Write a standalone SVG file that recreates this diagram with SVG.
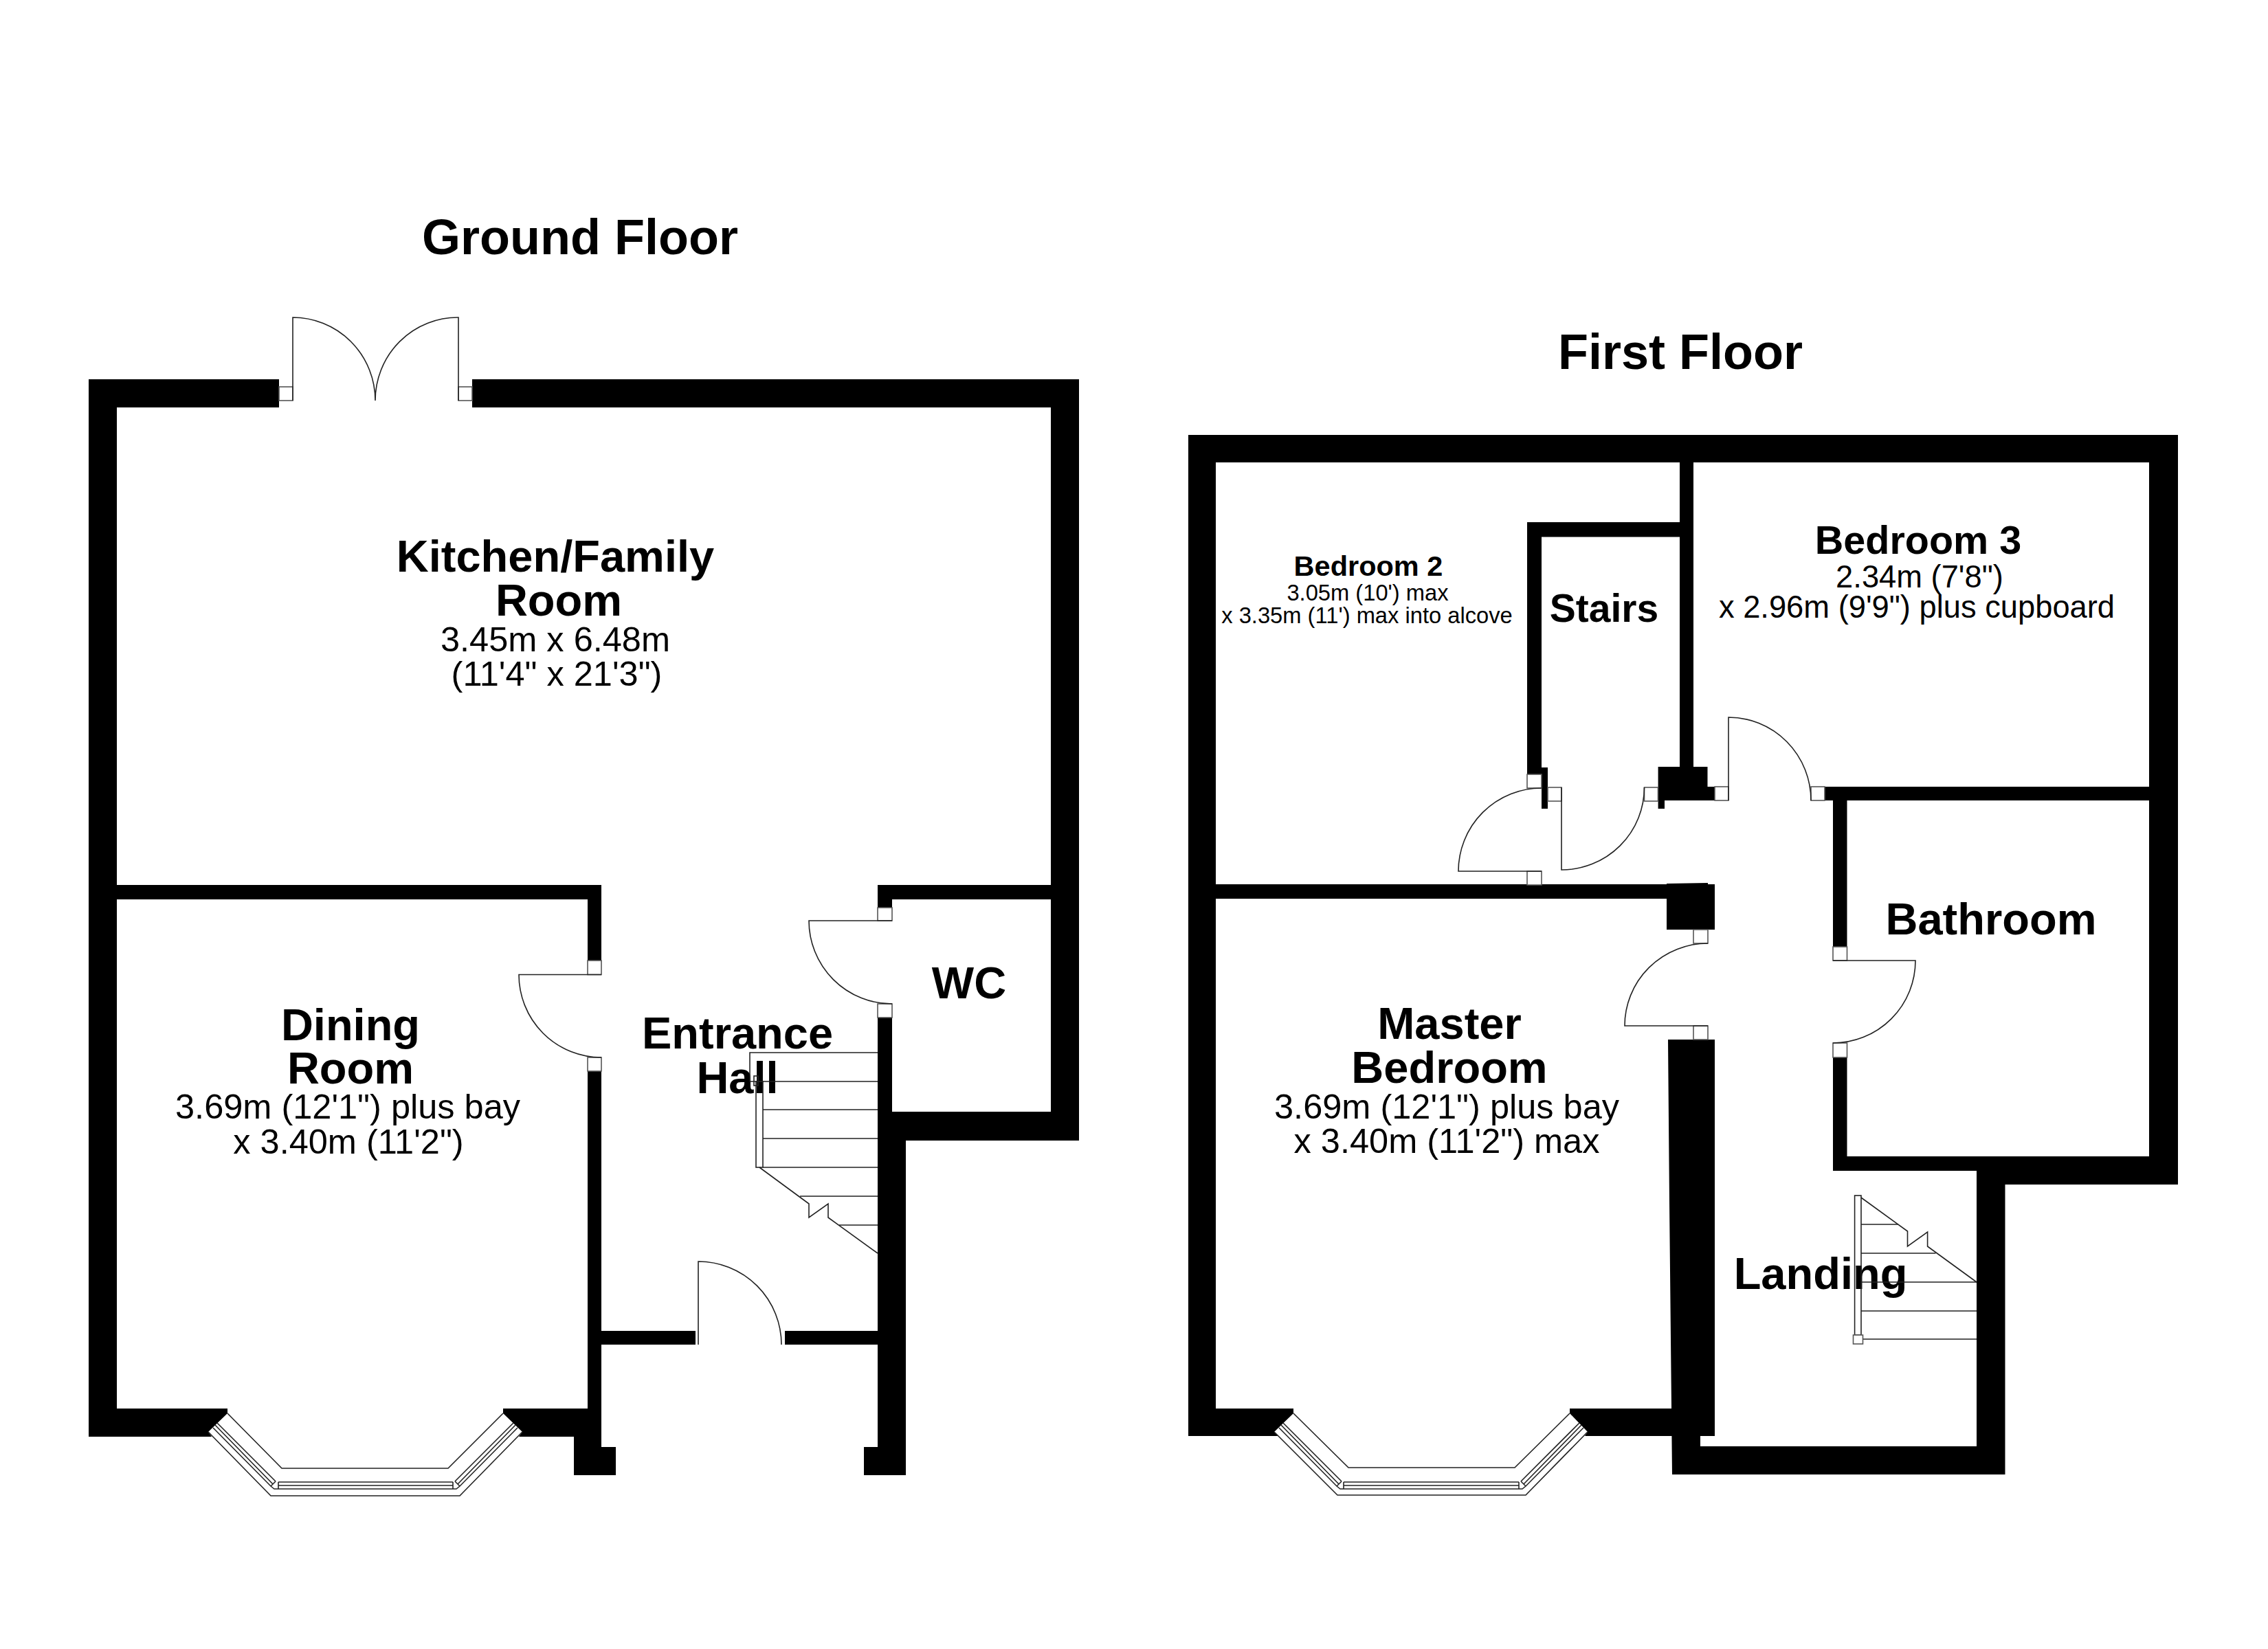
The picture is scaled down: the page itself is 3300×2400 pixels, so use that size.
<svg xmlns="http://www.w3.org/2000/svg" width="3300" height="2400" viewBox="0 0 3300 2400">
<style>
text{font-family:"Liberation Sans",Arial,sans-serif;fill:#000;text-anchor:middle}
.b{font-weight:700;font-size:65px}
.t{font-weight:700;font-size:72px}
.d{font-size:50.5px}
.s{font-size:32.7px}
.w{fill:#000;stroke:none}
.l{fill:none;stroke:#222;stroke-width:1.6}
.f{fill:#fff;stroke:#555;stroke-width:1.6}
</style>
<rect width="3300" height="2400" fill="#fff"/>
<g id="labels">
<text class="t" x="844" y="370">Ground Floor</text>
<text class="t" x="2445" y="537">First Floor</text>
<text class="b" x="808" y="832">Kitchen/Family</text>
<text class="b" x="813" y="896">Room</text>
<text class="d" x="808" y="948">3.45m x 6.48m</text>
<text class="d" x="810" y="998">(11'4" x 21'3")</text>
<text class="b" x="510" y="1514">Dining</text>
<text class="b" x="510" y="1577">Room</text>
<text class="d" x="506" y="1628">3.69m (12'1") plus bay</text>
<text class="d" x="507" y="1679">x 3.40m (11'2")</text>
<text class="b" x="1073" y="1526">Entrance</text>
<text class="b" x="1073" y="1591">Hall</text>
<text class="b" x="1410" y="1453">WC</text>
<text class="b" style="font-size:41.5px" x="1991" y="838">Bedroom 2</text>
<text class="s" x="1990" y="874">3.05m (10') max</text>
<text class="s" x="1989" y="907">x 3.35m (11') max into alcove</text>
<text class="b" style="font-size:57px" x="2334" y="905">Stairs</text>
<text class="b" style="font-size:57.500px" x="2791" y="806">Bedroom 3</text>
<text class="d" style="font-size:45.300px" x="2793" y="855">2.34m (7'8")</text>
<text class="d" style="font-size:45.300px" x="2789" y="899">x 2.96m (9'9") plus cupboard</text>
<text class="b" x="2897" y="1360">Bathroom</text>
<text class="b" x="2109" y="1512">Master</text>
<text class="b" x="2109" y="1576">Bedroom</text>
<text class="d" x="2105" y="1628">3.69m (12'1") plus bay</text>
<text class="d" x="2105" y="1678">x 3.40m (11'2") max</text>
<text class="b" x="2649" y="1876">Landing</text>
</g>
<g id="ground-floor-walls">
<path class="w" d="M129 552H406V593H170V2050H331V2057L303 2084L308 2091H129Z"/>
<path class="w" d="M687 552H1570V1660H1318V2147H1257V2106H1277V1481H1298V1618H1529V593H687Z"/>
<path class="w" d="M170 1288H875V1398H855V1309H170Z"/>
<path class="w" d="M855 1559H875V2106H896V2147H835V2091H755L760 2084L732 2057V2050H855Z"/>
<rect class="w" x="875" y="1937" width="137" height="20"/>
<rect class="w" x="1142" y="1937" width="135" height="20"/>
<rect class="w" x="1277" y="1288" width="21" height="33"/>
<rect class="w" x="1277" y="1288" width="252" height="21"/>
</g>
<g id="ground-floor-doors">
<rect class="f" x="406" y="563" width="20" height="20"/>
<rect class="f" x="667" y="563" width="20" height="20"/>
<path class="l" d="M426 583V462A120 121 0 0 1 546 583A120 121 0 0 1 667 462V583"/>
<rect class="f" x="855" y="1398" width="20" height="20.500"/>
<rect class="f" x="855" y="1539" width="20" height="20"/>
<path class="l" d="M875 1418.500H755A120 120.500 0 0 0 875 1539"/>
<rect class="f" x="1277" y="1321" width="21" height="19"/>
<rect class="f" x="1277" y="1461" width="21" height="20"/>
<path class="l" d="M1298 1340H1177A121 121 0 0 0 1298 1461"/>
<path class="l" d="M1016 1957V1836A121 121 0 0 1 1137 1957"/>
</g>
<g id="ground-floor-stairs">
<path class="l" d="M1091 1574V1532H1277M1091 1574H1277M1110 1615H1277M1110 1657H1277M1110 1699H1277M1164 1741H1277M1221 1783H1277"/>
<rect class="l" x="1100" y="1574" width="10" height="125"/>
<rect class="l" x="1097" y="1566" width="6" height="14"/>
<path class="l" d="M1105 1699L1177 1752V1772L1205 1752V1772L1277 1824"/>
</g>
<g id="ground-floor-bay">
<path class="l" d="M331 2057L410 2137H652L732 2057"/>
<path class="l" d="M303 2084L394 2177H669L760 2084"/>
<path class="l" d="M405 2157H659M405 2162H659M405 2167H659M405 2157V2167M659 2157V2167"/>
<path class="l" d="M316 2071L401 2156M313 2074L397 2160M310 2078L394 2163L399 2167H405M401 2156L394 2163"/>
<path class="l" d="M747 2071L662 2156M750 2074L666 2160M753 2078L669 2163L664 2167H659M662 2156L669 2163"/>
</g>
<g id="first-floor-walls">
<path class="w" d="M1729 633H3169V1724H2917.500V2146H2433L2429 1750L2427 1513H2495V2090H2474V2105H2876V1704H2667V1539H2687.500V1683H3127V1165H2687.500V1378H2667V1165H2655V1145H3127V673H2464V1116H2484.500V1145H2495V1165H2422V1177H2412.600V1116H2444V781.500H2243V1127H2222V760H2444V673H1769V2050H1882V2057L1854 2084L1860 2090H1729Z"/>
<path class="w" d="M2284 2050V2057L2310 2084L2306 2090H2433V2050Z"/>
<rect class="w" x="1769" y="1287" width="656" height="21"/>
<path class="w" d="M2425 1286L2485 1285V1287H2495V1353H2425Z"/>
<path class="w" d="M2243 1117H2252V1177H2243Z"/>
</g>
<g id="first-floor-doors">
<rect class="f" x="2222" y="1127" width="21" height="20"/>
<rect class="f" x="2252" y="1146" width="20" height="20"/>
<rect class="f" x="2392.500" y="1146" width="20" height="20"/>
<path class="l" d="M2272 1146V1266A120.500 120 0 0 0 2392.500 1146"/>
<rect class="f" x="2222" y="1268" width="21" height="20"/>
<path class="l" d="M2243 1147A121 121 0 0 0 2122 1268H2243"/>
<rect class="f" x="2495" y="1145" width="20" height="20"/>
<rect class="f" x="2635" y="1145" width="20" height="20"/>
<path class="l" d="M2515 1165V1044A120 121 0 0 1 2635 1165"/>
<rect class="f" x="2464" y="1353" width="21" height="20"/>
<rect class="f" x="2464" y="1493" width="21" height="20"/>
<path class="l" d="M2485 1373A121 120 0 0 0 2364 1493H2485"/>
<rect class="f" x="2667" y="1378" width="20.500" height="20"/>
<rect class="f" x="2667" y="1518" width="20.500" height="21"/>
<path class="l" d="M2667 1398H2787A120 120 0 0 1 2667 1518"/>
</g>
<g id="first-floor-stairs">
<path class="l" d="M2708 1782H2762M2708 1824H2816.500M2708 1866H2876M2708 1908H2876M2710 1949H2876"/>
<rect class="l" x="2698.600" y="1740" width="9.400" height="203"/>
<rect class="f" x="2696.500" y="1943" width="14" height="13"/>
<path class="l" d="M2708 1743L2775.500 1792V1814L2804.600 1793V1814L2876 1866"/>
</g>
<g id="first-floor-bay">
<path class="l" d="M1882 2057L1962 2136H2204L2284 2057"/>
<path class="l" d="M1854 2084L1946 2176H2220L2310 2084"/>
<path class="l" d="M1955 2157H2210M1955 2162H2210M1955 2167H2210M1955 2157V2167M2210 2157V2167"/>
<path class="l" d="M1867 2071L1952 2156M1864 2074L1948 2160M1861 2078L1945 2163L1950 2167H1955M1952 2156L1945 2163"/>
<path class="l" d="M2298 2071L2213 2156M2301 2074L2217 2160M2304 2078L2220 2163L2215 2167H2210M2213 2156L2220 2163"/>
</g>
</svg>
